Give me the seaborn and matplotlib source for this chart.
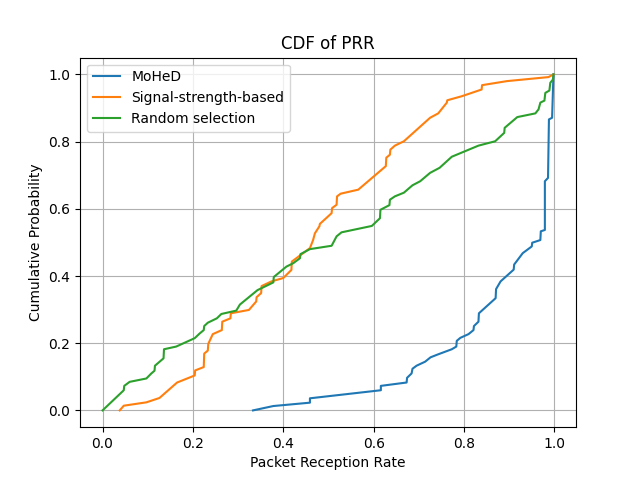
import matplotlib
matplotlib.use('Agg')
import matplotlib.pyplot as plt
import pandas as pd
import seaborn as sns

# Points (PRR, cumulative probability)
mohed_x = [0.333, 0.378, 0.459, 0.459, 0.616, 0.616, 0.673, 0.674, 0.684, 0.686, 0.695,
           0.714, 0.726, 0.743, 0.773, 0.783, 0.784, 0.792, 0.810, 0.821, 0.822, 0.832,
           0.833, 0.870, 0.871, 0.881, 0.910, 0.911, 0.930, 0.950, 0.951, 0.969, 0.970,
           0.979, 0.979, 0.986, 0.988, 0.995, 0.998]
mohed_y = [0.000, 0.013, 0.023, 0.036, 0.060, 0.073, 0.083, 0.097, 0.110, 0.124, 0.133,
           0.145, 0.158, 0.167, 0.182, 0.190, 0.207, 0.216, 0.227, 0.239, 0.251, 0.264,
           0.289, 0.334, 0.361, 0.384, 0.419, 0.434, 0.468, 0.488, 0.499, 0.507, 0.533,
           0.537, 0.682, 0.692, 0.866, 0.871, 1.000]

signal_x = [0.038, 0.047, 0.097, 0.126, 0.165, 0.204, 0.205, 0.224, 0.225, 0.233, 0.234,
            0.244, 0.264, 0.265, 0.283, 0.284, 0.324, 0.340, 0.341, 0.351, 0.352, 0.374,
            0.400, 0.418, 0.419, 0.444, 0.459, 0.466, 0.470, 0.480, 0.481, 0.507, 0.508,
            0.518, 0.519, 0.527, 0.566, 0.627, 0.628, 0.636, 0.637, 0.647, 0.667, 0.725,
            0.743, 0.762, 0.763, 0.795, 0.839, 0.840, 0.895, 0.987, 0.998]
signal_y = [0.000, 0.014, 0.024, 0.037, 0.083, 0.104, 0.119, 0.129, 0.169, 0.178, 0.198,
            0.227, 0.239, 0.264, 0.274, 0.289, 0.299, 0.324, 0.337, 0.349, 0.370, 0.384,
            0.394, 0.418, 0.443, 0.468, 0.483, 0.507, 0.527, 0.548, 0.555, 0.587, 0.602,
            0.612, 0.637, 0.645, 0.657, 0.727, 0.752, 0.761, 0.776, 0.788, 0.801, 0.871,
            0.884, 0.916, 0.923, 0.935, 0.955, 0.968, 0.980, 0.992, 1.000]

random_x = [0.000, 0.047, 0.048, 0.060, 0.097, 0.108, 0.115, 0.116, 0.135, 0.136, 0.163,
            0.204, 0.215, 0.224, 0.225, 0.233, 0.253, 0.263, 0.296, 0.304, 0.343, 0.378,
            0.379, 0.407, 0.422, 0.437, 0.438, 0.459, 0.507, 0.518, 0.529, 0.596, 0.614,
            0.615, 0.635, 0.636, 0.647, 0.667, 0.686, 0.703, 0.725, 0.746, 0.773, 0.832,
            0.869, 0.889, 0.890, 0.918, 0.958, 0.965, 0.969, 0.978, 0.980, 0.989, 0.991,
            0.997, 0.998]
random_y = [0.000, 0.060, 0.073, 0.085, 0.095, 0.110, 0.118, 0.133, 0.155, 0.182, 0.190,
            0.215, 0.229, 0.239, 0.251, 0.261, 0.274, 0.287, 0.297, 0.315, 0.358, 0.381,
            0.397, 0.428, 0.438, 0.453, 0.465, 0.480, 0.490, 0.518, 0.530, 0.549, 0.572,
            0.597, 0.611, 0.627, 0.637, 0.648, 0.670, 0.682, 0.707, 0.722, 0.755, 0.788,
            0.801, 0.826, 0.841, 0.873, 0.884, 0.896, 0.916, 0.922, 0.945, 0.952, 0.975,
            0.985, 1.000]

series = [('MoHeD', mohed_x, mohed_y),
          ('Signal-strength-based', signal_x, signal_y),
          ('Random selection', random_x, random_y)]

fig, ax = plt.subplots(figsize=(6.4, 4.8), dpi=100)
for i, (name, xs, ys) in enumerate(series):
    df = pd.DataFrame({'prr': xs, 'cdf': ys})
    sns.lineplot(data=df, x='prr', y='cdf', ax=ax, estimator=None, sort=False,
                 color=f'C{i}', label=name, linewidth=1.5)

ax.set_title('CDF of PRR')
ax.set_xlabel('Packet Reception Rate')
ax.set_ylabel('Cumulative Probability')
ax.grid(True)
ax.legend(loc='upper left')

fig.savefig('out.png')
